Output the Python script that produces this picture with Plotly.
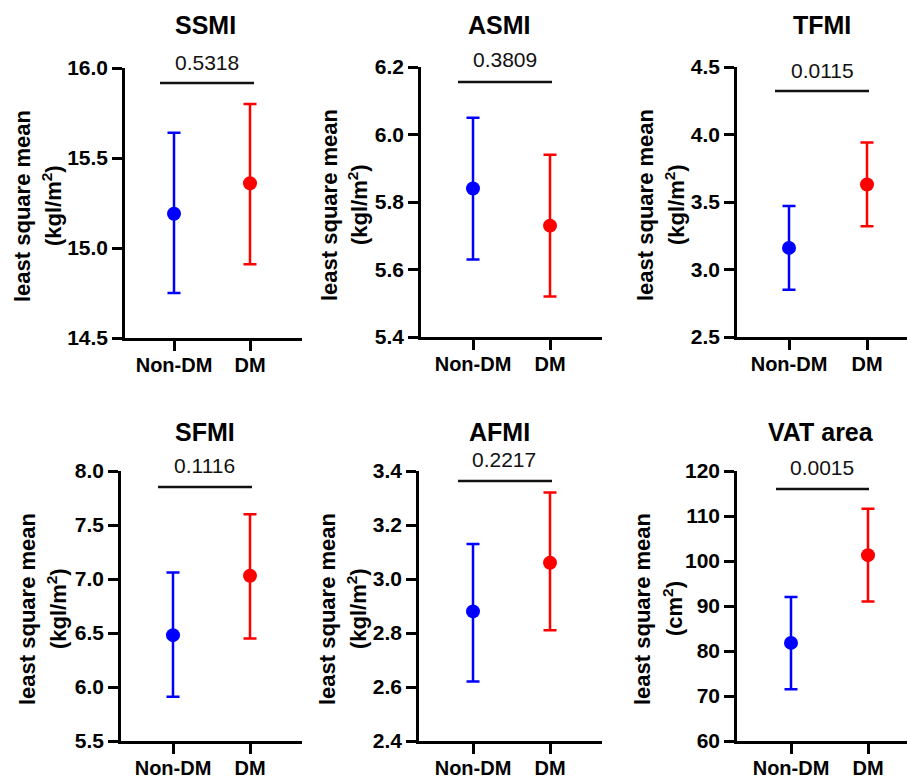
import plotly.graph_objects as go

# ---------------- data ----------------
panels = ["SSMI", "ASMI", "TFMI", "SFMI", "AFMI", "VAT area"]
groups = ["Non-DM", "DM"]
units = ["(kgl/m<sup>2</sup>)"] * 5 + ["(cm<sup>2</sup>)"]
nondm_mean = [15.19, 5.84, 3.16, 6.48, 2.88, 81.8]
nondm_lo = [14.75, 5.63, 2.85, 5.91, 2.62, 71.5]
nondm_hi = [15.64, 6.05, 3.47, 7.06, 3.13, 92.0]
dm_mean = [15.36, 5.73, 3.63, 7.03, 3.06, 101.3]
dm_lo = [14.91, 5.52, 3.32, 6.45, 2.81, 91.0]
dm_hi = [15.80, 5.94, 3.94, 7.60, 3.32, 111.6]
p_values = ["0.5318", "0.3809", "0.0115", "0.1116", "0.2217", "0.0015"]
y_ranges = [[14.5, 16.0], [5.4, 6.2], [2.5, 4.5], [5.5, 8.0], [2.4, 3.4], [60, 120]]
y_dticks = [0.5, 0.2, 0.5, 0.5, 0.2, 10]
y_formats = [".1f", ".1f", ".1f", ".1f", ".1f", "d"]

# ---------------- layout geometry (pixels) ----------------
W, H = 908, 778
def px(x):
    return x / W
def py(y):
    return 1 - y / H

# axis extents in pixels: (x_left, x_right, y_top, y_bottom), tick px for Non-DM and DM
axis_px = [
    (125, 302, 68, 338, 174, 250),
    (421, 602, 67, 337, 473, 550),
    (737, 907, 67, 337, 789, 867),
    (121, 302, 471, 741, 173, 250),
    (419, 602, 471, 741, 473, 550),
    (737, 907, 471, 741, 791, 868),
]
title_px = [(205, 25), (500, 25), (822, 25), (205, 432), (500, 432), (821, 432)]
pval_px = [(207, 63), (505, 60), (822, 70), (204, 465), (504, 460), (822, 467)]
bracket_px = [(160, 254, 83), (458, 552, 82), (775, 869, 91),
              (158, 252, 487), (458, 552, 481), (776, 869, 489)]
ylab_px = [(22, 52), (329, 358), (645, 675), (27, 57), (327, 357), (642, 673)]

BLUE = "#0000FF"
RED = "#FF0000"
FONT = "Liberation Sans, Arial, Helvetica, sans-serif"

fig = go.Figure()
layout = dict(
    width=W, height=H,
    margin=dict(l=0, r=0, t=0, b=0, autoexpand=False),
    paper_bgcolor="white", plot_bgcolor="white",
    showlegend=False,
    font=dict(family=FONT, color="black"),
)
annotations = []
shapes = []

for i, name in enumerate(panels):
    xl, xr, yt, yb, t0, t1 = axis_px[i]
    sp = t1 - t0
    xr0 = -(t0 - xl) / sp
    xr1 = (xr - t0) / sp
    xa = "x" if i == 0 else f"x{i+1}"
    ya = "y" if i == 0 else f"y{i+1}"
    xkey = "xaxis" if i == 0 else f"xaxis{i+1}"
    ykey = "yaxis" if i == 0 else f"yaxis{i+1}"

    for j, (m, lo, hi, col) in enumerate([
        (nondm_mean[i], nondm_lo[i], nondm_hi[i], BLUE),
        (dm_mean[i], dm_lo[i], dm_hi[i], RED),
    ]):
        fig.add_trace(go.Scatter(
            x=[j], y=[m], xaxis=xa, yaxis=ya, mode="markers",
            marker=dict(color=col, size=14),
            error_y=dict(type="data", symmetric=False,
                         array=[hi - m], arrayminus=[m - lo],
                         color=col, thickness=2.5, width=6.5),
            cliponaxis=False,
        ))

    layout[xkey] = dict(
        domain=[px(xl), px(xr)], range=[xr0, xr1], anchor=ya,
        tickmode="array", tickvals=[0, 1], ticktext=groups,
        showline=True, linecolor="black", linewidth=2.5,
        ticks="outside", ticklen=10, tickwidth=2.5, tickcolor="black",
        ticklabelstandoff=-3,
        tickfont=dict(size=20, weight="bold", family=FONT, color="black"),
        showgrid=False, zeroline=False, fixedrange=True, automargin=False,
    )
    layout[ykey] = dict(
        domain=[py(yb), py(yt)], range=y_ranges[i], anchor=xa,
        dtick=y_dticks[i], tick0=y_ranges[i][0], tickformat=y_formats[i],
        showline=True, linecolor="black", linewidth=2.5,
        ticks="outside", ticklen=10, tickwidth=2.5, tickcolor="black",
        tickfont=dict(size=21, weight="bold", family=FONT, color="black"),
        showgrid=False, zeroline=False, fixedrange=True, automargin=False,
    )

    tx, ty = title_px[i]
    annotations.append(dict(
        x=px(tx), y=py(ty), xref="paper", yref="paper", text=f"<b>{name}</b>",
        showarrow=False, xanchor="center", yanchor="middle",
        font=dict(size=25, family=FONT, color="black"),
    ))
    vx, vy = pval_px[i]
    annotations.append(dict(
        x=px(vx), y=py(vy), xref="paper", yref="paper", text=p_values[i],
        showarrow=False, xanchor="center", yanchor="middle",
        font=dict(size=21, family=FONT, color="#111"),
    ))
    bx0, bx1, by = bracket_px[i]
    shapes.append(dict(
        type="line", xref="paper", yref="paper",
        x0=px(bx0), x1=px(bx1), y0=py(by), y1=py(by),
        line=dict(color="#111", width=2.5),
    ))
    l1, l2 = ylab_px[i]
    ymid = (yt + yb) / 2 + 3
    annotations.append(dict(
        x=px(l1), y=py(ymid), xref="paper", yref="paper",
        text="<b>least square mean</b>", textangle=-90,
        showarrow=False, xanchor="center", yanchor="middle",
        font=dict(size=22, family=FONT, color="black"),
    ))
    annotations.append(dict(
        x=px(l2), y=py(ymid), xref="paper", yref="paper",
        text=f"<b>{units[i]}</b>", textangle=-90,
        showarrow=False, xanchor="center", yanchor="middle",
        font=dict(size=22, family=FONT, color="black"),
    ))

layout["annotations"] = annotations
layout["shapes"] = shapes
fig.update_layout(**layout)
fig.write_html(
    "out.html",
    config={"displayModeBar": False},
    post_script="document.body.style.margin='0';document.body.style.overflow='hidden';",
)
